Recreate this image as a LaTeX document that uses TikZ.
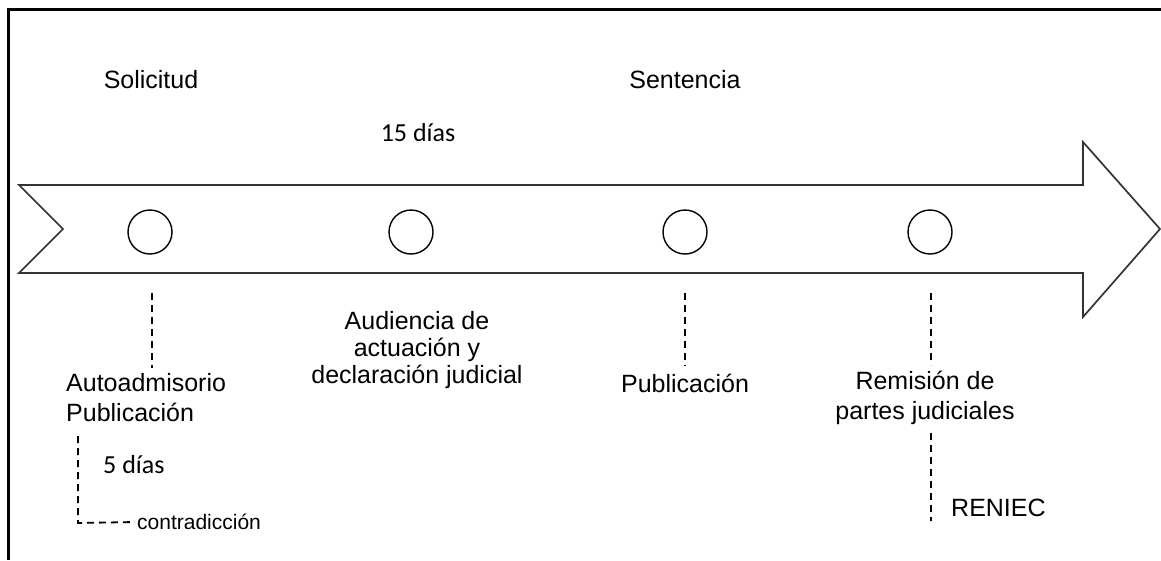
\documentclass[tikz,border=0pt]{standalone}
\usepackage{fontspec}
\setmainfont{Liberation Sans}
\newfontfamily\calib{Carlito}
\begin{document}
\begin{tikzpicture}[x=1pt,y=-1pt,
  lbl/.style={inner sep=0pt,font=\fontsize{25}{30}\selectfont,align=center},
  cal/.style={inner sep=0pt,font=\calib\fontsize{26}{31}\selectfont},
  small/.style={inner sep=0pt,font=\fontsize{21}{25}\selectfont,anchor=west},
  dline/.style={line width=1.8pt,dash pattern=on 7pt off 5pt},
  dot/.style={circle,draw,line width=1.4pt,minimum size=44pt,inner sep=0pt}]
\useasboundingbox (0,0) rectangle (1161,560);
% frame
\draw[line width=2.4pt] (1161,9.5) -- (8.5,9.5) -- (8.5,560);
% arrow
\draw[line width=1.7pt,black!80,line join=miter]
  (19,185) -- (1083,185) -- (1083,142) -- (1160,229) -- (1083,317) -- (1083,273) -- (19,273) -- (63,229) -- cycle;
% circles
\node[dot] (c1) at (150,232) {};
\node[dot] (c2) at (411,232) {};
\node[dot] (c3) at (685,232) {};
\node[dot] (c4) at (930,232) {};
% top labels
\node[lbl] (sol) at (151,80) {Solicitud};
\node[lbl] (sen) at (685,80) {Sentencia};
\node[cal] (d15) at (418,133) {15 días};
% bottom labels
\node[lbl,align=left,anchor=west] (auto) at (66,398) {Autoadmisorio\\Publicación};
\node[lbl,font=\fontsize{25}{27}\selectfont] (aud) at (417,350) {Audiencia de\\actuación y\\declaración judicial};
\node[lbl] (pub) at (685,383) {Publicación};
\node[lbl] (rem) at (925,398) {Remisión de\\partes judiciales};
\node[lbl,anchor=west] (ren) at (951,508) {RENIEC};
\node[cal,anchor=west] (d5) at (103,465) {5 días};
\node[small] (con) at (137,522) {contradicción};
% dashed connectors
\coordinate (a1) at (152,293);
\coordinate (a3) at (685,293);
\coordinate (a4) at (931,293);
\draw[dline,shorten >=6pt] (a1) -- (a1 |- auto.north);
\draw[dline,shorten >=8pt] (a3) -- (a3 |- pub.north);
\draw[dline,shorten >=6pt] (a4) -- (a4 |- rem.north);
\coordinate (r1) at (931,433);
\coordinate (r2) at (931,521);
\draw[dline] (r1) -- (r2);
\coordinate (p1) at (78,436);
\coordinate (p2) at (78,523);
\draw[dline] (p1) -- (p2) -- ([xshift=-2pt]con.west);
\end{tikzpicture}
\end{document}
